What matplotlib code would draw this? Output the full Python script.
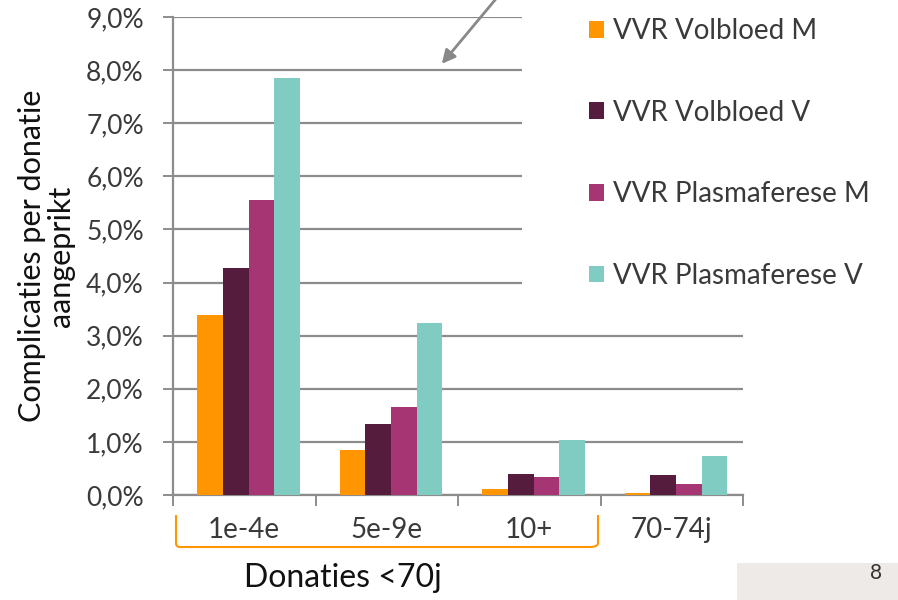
import matplotlib.pyplot as plt
from matplotlib.patches import Rectangle, FancyArrowPatch
from matplotlib.path import Path
from matplotlib.patches import PathPatch
import numpy as np

categories = ['1e-4e', '5e-9e', '10+', '70-74j']
series_names = ['VVR Volbloed M', 'VVR Volbloed V', 'VVR Plasmaferese M', 'VVR Plasmaferese V']
volbloed_m = [3.39, 0.85, 0.11, 0.04]
volbloed_v = [4.28, 1.34, 0.40, 0.38]
plasma_m = [5.56, 1.66, 0.33, 0.21]
plasma_v = [7.85, 3.24, 1.04, 0.74]
colors = ['#FF9500', '#561C3D', '#A63673', '#80CCC2']
yticks = [0, 1, 2, 3, 4, 5, 6, 7, 8, 9]

W, H = 898, 600
fig = plt.figure(figsize=(W / 100, H / 100), dpi=100)
plt.rcParams['font.family'] = ['Lato', 'DejaVu Sans']

ax = fig.add_axes([173 / W, 1 - 495 / H, 570 / W, 478 / H])
grid_c = '#8C8C8C'
text_c = '#3A3A3A'

x = np.arange(len(categories))
bw = 0.18
all_series = [volbloed_m, volbloed_v, plasma_m, plasma_v]
for i, (vals, c, name) in enumerate(zip(all_series, colors, series_names)):
	ax.bar(x + (i - 1.5) * bw + 0.03, vals, width=bw, color=c, label=name, zorder=3)

ax.set_xlim(-0.5, len(categories) - 0.5)
ax.set_ylim(0, 9)
ax.set_yticks(yticks)
ax.set_yticklabels([f"{v:.1f}%".replace('.', ',') for v in yticks],
	fontsize=19, color=text_c)
ax.yaxis.grid(True, color=grid_c, linewidth=1.6, zorder=0)
ax.set_axisbelow(True)
for s in ['top', 'right']:
	ax.spines[s].set_visible(False)
for s in ['left', 'bottom']:
	ax.spines[s].set_color(grid_c)
	ax.spines[s].set_linewidth(1.6)
ax.tick_params(axis='y', length=7, width=1.4, color=grid_c, pad=14)

# category boundary ticks on x axis
ax.set_xticks(np.arange(-0.5, len(categories), 1.0))
ax.set_xticklabels([])
ax.tick_params(axis='x', length=8, width=1.4, color=grid_c)
for xi, lab in zip(x, categories):
	ax.text(xi, -0.66, lab, ha='center', va='center', fontsize=20, color=text_c)

ax.set_ylabel('Complicaties per donatie\naangeprikt', fontsize=22, color='#111111',
	linespacing=1.05, labelpad=8)

# white patch behind legend (covers the upper gridlines)
fig.patches.append(Rectangle((522 / W, 1 - 310 / H), 1 - 522 / W, 310 / H,
	transform=fig.transFigure, facecolor='white', edgecolor='none', zorder=2))

# legend
handles, labels = ax.get_legend_handles_labels()
leg = fig.legend(handles, labels, loc='upper left', bbox_to_anchor=(578 / W, 1 - 7 / H),
	frameon=False, fontsize=20, handlelength=0.55, handleheight=0.55,
	handletextpad=0.3, labelspacing=2.0, borderaxespad=0)
for t in leg.get_texts():
	t.set_color(text_c)

# arrow
fig.patches.append(FancyArrowPatch((500 / W, 1 + 6 / H), (440 / W, 1 - 66 / H),
	transform=fig.transFigure, arrowstyle='-|>,head_length=8,head_width=4',
	color='#888888', linewidth=2, zorder=4))

# orange bracket under the first three categories
r = 4
verts = [(176, 515), (176, 547 - r), (176, 547), (176 + r, 547), (594 - r, 547),
	(598, 547), (598, 547 - r), (598, 515)]
verts = [(vx / W, 1 - vy / H) for vx, vy in verts]
codes = [Path.MOVETO, Path.LINETO, Path.CURVE3, Path.CURVE3, Path.LINETO,
	Path.CURVE3, Path.CURVE3, Path.LINETO]
fig.patches.append(PathPatch(Path(verts, codes), transform=fig.transFigure,
	facecolor='none', edgecolor='#FF9500', linewidth=1.5, zorder=4))
fig.text(343 / W, 1 - 578 / H, 'Donaties <70j', ha='center', va='center',
	fontsize=23, color='#111111')

# page number box
fig.patches.append(Rectangle((737 / W, 0), 1 - 737 / W, 37 / H,
	transform=fig.transFigure, facecolor='#EDEAE7', edgecolor='none', zorder=2))
fig.text(876 / W, 1 - 573 / H, '8', ha='center', va='center', fontsize=15,
	color='#333333')

fig.savefig('out.png', dpi=100)
